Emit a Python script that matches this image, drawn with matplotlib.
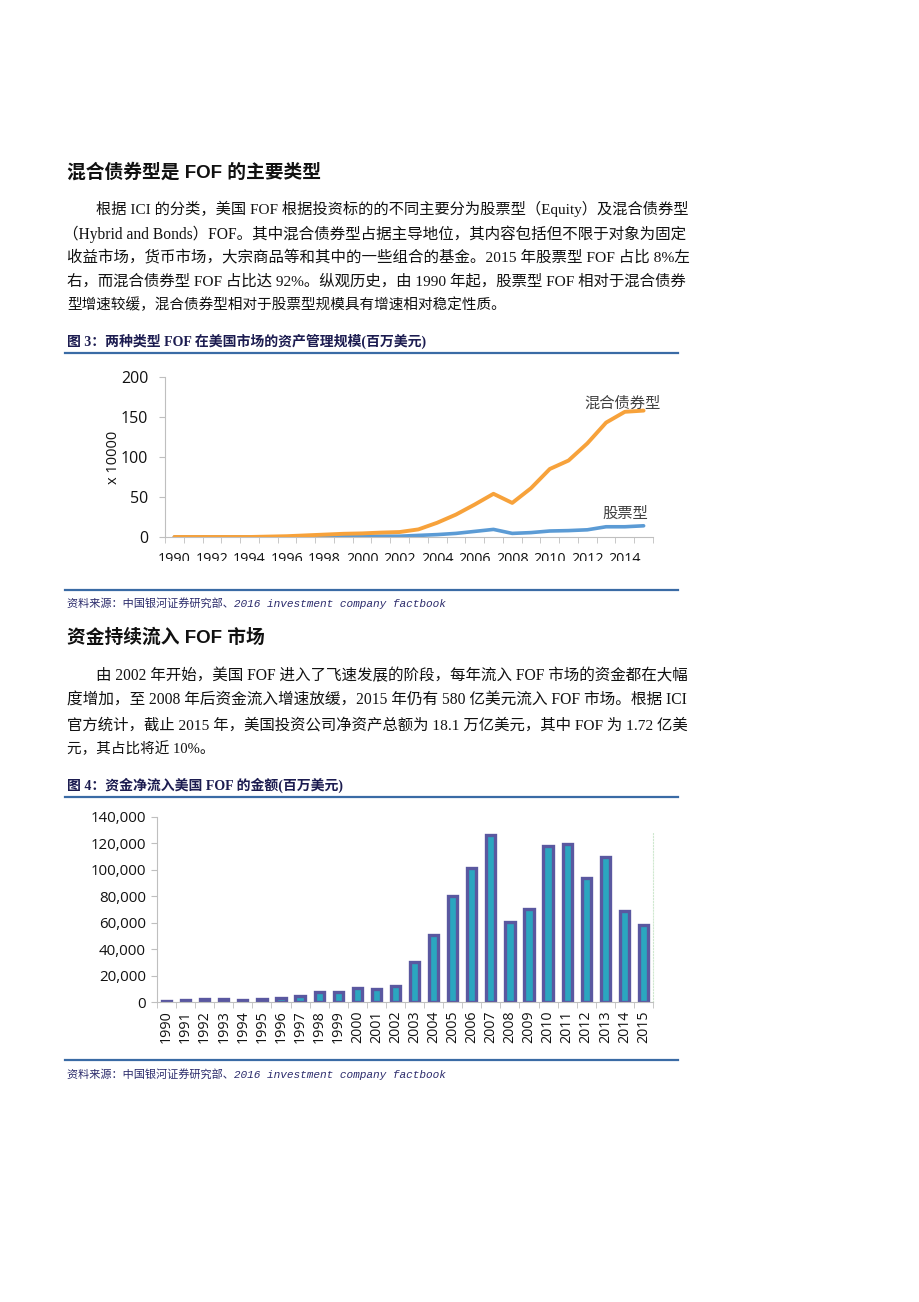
import numpy as np
import matplotlib
matplotlib.use("Agg")
import matplotlib.pyplot as plt
from matplotlib.transforms import Bbox

W, H = 920, 1302

# chart 1: FOF assets by type (x 10000 million USD)
years = list(range(1990, 2016))
hybrid = [0, 0, 0, 0, 0, 0.5, 1, 2, 3, 4, 4.5, 5.5, 6.2, 9.5, 17.8, 28, 40.6, 54,
          42.6, 61, 85, 95.6, 117, 143, 156.5, 158]
equity = [0, 0, 0, 0, 0, 0, 0.2, 0.4, 0.6, 0.8, 1, 1, 1, 2, 3, 4.5, 7, 9.5,
          4.5, 5.5, 7.5, 8, 9, 12.8, 12.8, 14]
line_labels = ["混合债券型", "股票型"]

# chart 2: net new cash flow to FOFs (million USD)
flows = [1000, 1200, 2000, 2000, 1500, 2000, 3300, 4300, 7300, 7300, 10800, 9500,
         11800, 30400, 51000, 80000, 101500, 126400, 60800, 70600, 118400, 119900,
         94200, 109800, 68900, 58500]

CJK = "Noto Sans CJK SC"
serif = ["Liberation Serif", CJK]
sans_bold = ["Liberation Sans", CJK]
num_font = ["Open Sans", CJK]

fig = plt.figure(figsize=(W / 100, H / 100), dpi=100)
fig.patch.set_facecolor("white")
renderer = fig.canvas.get_renderer()


def fx(px):
    return px / W


def fy(py):
    return 1 - py / H


def heading(y, s):
    fig.text(fx(67), fy(y), s, fontsize=13.5, fontweight="bold", family=sans_bold,
             color="#111111", va="center", ha="left")


def body(x, y, s, justify=True):
    t = fig.text(fx(x), fy(y), s, fontsize=10.5, family=serif, color="#111111",
                 va="center", ha="left")
    if justify:
        w = t.get_window_extent(renderer).width
        t.set_fontsize(10.5 * min(max((690 - x) / w, 0.85), 1.15))


def caption(y, s):
    fig.text(fx(67), fy(y), s, fontsize=10, fontweight="bold", family=serif,
             color="#1c1c50", va="center", ha="left")


def rule(y):
    fig.add_artist(plt.Line2D([fx(65), fx(678)], [fy(y), fy(y)], color="#3a6ba5",
                              lw=1.6, transform=fig.transFigure))


def source(y):
    fig.text(fx(67), fy(y), "资料来源：中国银河证券研究部、2016 investment company factbook",
             fontsize=8, style="italic", family=["Liberation Mono", CJK],
             color="#2b2b6b", va="center", ha="left")


# ---- page text ----
heading(172, "混合债券型是 FOF 的主要类型")
body(96, 209, "根据 ICI 的分类，美国 FOF 根据投资标的的不同主要分为股票型（Equity）及混合债券型")
body(63, 234, "（Hybrid and Bonds）FOF。其中混合债券型占据主导地位，其内容包括但不限于对象为固定")
body(67, 258, "收益市场，货币市场，大宗商品等和其中的一些组合的基金。2015 年股票型 FOF 占比 8%左")
body(67, 281, "右，而混合债券型 FOF 占比达 92%。纵观历史，由 1990 年起，股票型 FOF 相对于混合债券")
body(67, 305, "型增速较缓，混合债券型相对于股票型规模具有增速相对稳定性质。", justify=False)
caption(341, "图 3：两种类型 FOF 在美国市场的资产管理规模(百万美元)")
rule(353)
rule(590)
source(603)

heading(638, "资金持续流入 FOF 市场")
body(96, 676, "由 2002 年开始，美国 FOF 进入了飞速发展的阶段，每年流入 FOF 市场的资金都在大幅")
body(67, 701, "度增加，至 2008 年后资金流入增速放缓，2015 年仍有 580 亿美元流入 FOF 市场。根据 ICI")
body(67, 725, "官方统计，截止 2015 年，美国投资公司净资产总额为 18.1 万亿美元，其中 FOF 为 1.72 亿美")
body(67, 749, "元，其占比将近 10%。", justify=False)
caption(785, "图 4：资金净流入美国 FOF 的金额(百万美元)")
rule(797)
rule(1060)
source(1074)

# ---- chart 1 ----
ax1 = fig.add_axes([fx(165), fy(537), (653 - 165) / W, (537 - 377) / H])
x = np.arange(len(years))
ax1.plot(x, equity, color="#5b9bd5", lw=2.6, solid_capstyle="round", zorder=2)
ax1.plot(x, hybrid, color="#f7a23b", lw=2.8, solid_capstyle="round", zorder=3)
ax1.set_xlim(-0.5, len(years) - 0.5)
ax1.set_ylim(0, 200)
ax1.set_yticks([0, 50, 100, 150, 200])
ax1.set_xticks(x[::2])
ax1.set_xticklabels([str(y) for y in years[::2]])
ax1.set_xticks(np.arange(-0.5, len(years)), minor=True)
ax1.tick_params(axis="x", which="major", length=0, pad=11, labelsize=10.3)
ax1.tick_params(axis="x", which="minor", length=4, color="#bfbfbf")
ax1.tick_params(axis="y", length=4, color="#bfbfbf", pad=8, labelsize=11.5)
for lab in ax1.get_xticklabels() + ax1.get_yticklabels():
    lab.set_family(num_font)
    lab.set_color("#111111")
clip = Bbox.from_extents(0, H - 561, W, H)
for lab in ax1.get_xticklabels():
    lab.set_clip_on(True)
    lab.set_clip_box(clip)
for s in ["top", "right"]:
    ax1.spines[s].set_visible(False)
for s in ["left", "bottom"]:
    ax1.spines[s].set_color("#bfbfbf")
ax1.set_ylabel("x 10000", fontsize=10.5, family=num_font, color="#111111", labelpad=0)
ax1.yaxis.set_label_coords(-0.09, 0.5)
ax1.text(23.9, 167, line_labels[0], fontsize=11, family=[CJK], color="#404040",
         ha="center", va="center")
ax1.text(24.05, 29, line_labels[1], fontsize=11, family=[CJK], color="#404040",
         ha="center", va="center")

# ---- chart 2 ----
ax2 = fig.add_axes([fx(157), fy(1002), (653 - 157) / W, (1002 - 817) / H])
xb = np.arange(len(years))
ax2.bar(xb, flows, width=0.48, color="#2ba6c0", edgecolor="#5a58a0", linewidth=2.4,
        zorder=2)
ax2.set_xlim(-0.5, len(years) - 0.5)
ax2.set_ylim(0, 140000)
ax2.set_yticks(np.arange(0, 140001, 20000))
ax2.set_yticklabels([f"{v:,}" for v in range(0, 140001, 20000)])
ax2.set_xticks(xb)
ax2.set_xticklabels([str(y) for y in years], rotation=90)
ax2.set_xticks(np.arange(-0.5, len(years)), minor=True)
ax2.tick_params(axis="x", which="major", length=0, pad=6, labelsize=10.3)
ax2.tick_params(axis="x", which="minor", length=4, color="#bfbfbf")
ax2.tick_params(axis="y", length=4, color="#bfbfbf", pad=4, labelsize=10.8)
for lab in ax2.get_xticklabels() + ax2.get_yticklabels():
    lab.set_family(num_font)
    lab.set_color("#111111")
ax2.spines["top"].set_visible(False)
ax2.spines["right"].set_color("#cfe8cf")
ax2.spines["right"].set_linestyle(":")
ax2.spines["right"].set_bounds(0, 128000)
for s in ["left", "bottom"]:
    ax2.spines[s].set_color("#bfbfbf")

fig.savefig("out.png", dpi=100, facecolor="white")
